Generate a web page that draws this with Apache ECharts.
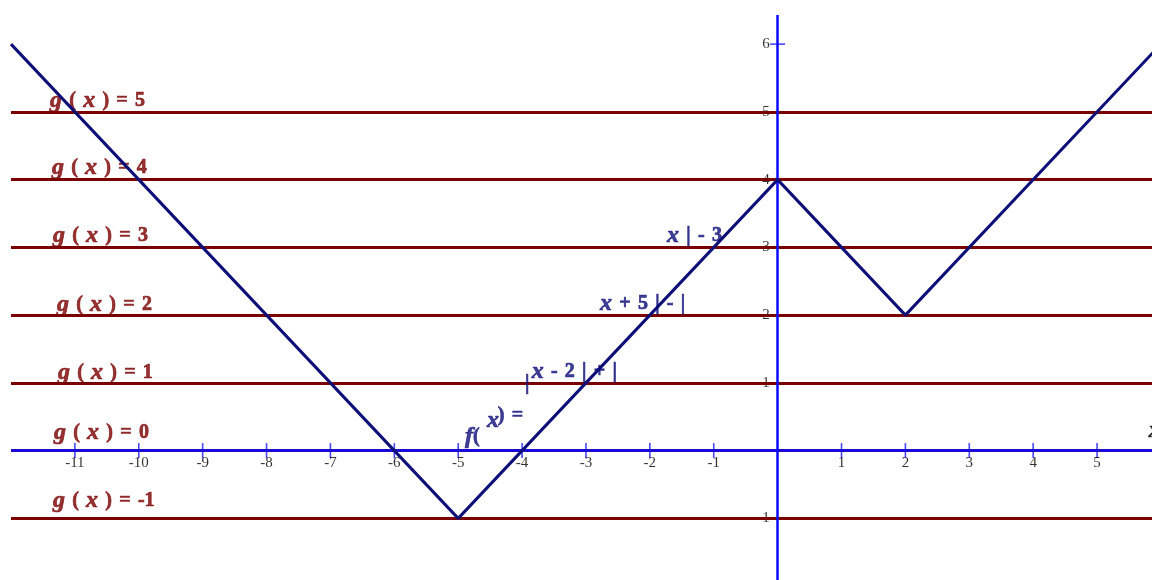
<!DOCTYPE html>
<html><head><meta charset="utf-8">
<script src="https://cdn.jsdelivr.net/npm/echarts@6/dist/echarts.min.js"></script>
<style>html,body{margin:0;padding:0;background:#fff}#c{width:1152px;height:580px}</style>
</head><body><div id="c"></div>
<script>
// ---- data ----
const curveX = [-12, -5, 0, 2, 6];
const curveY = [6, -1, 4, 2, 6];
const gValues = [5, 4, 3, 2, 1, 0, -1];
const xTickValues = [-11, -10, -9, -8, -7, -6, -5, -4, -3, -2, -1, 1, 2, 3, 4, 5];
const yTickValues = [-1, 1, 2, 3, 4, 5, 6];
const curveLabelTexts = ['f(', 'x', ') =', '|', 'x - 2 | + |', 'x + 5 | - |', 'x | - 3'];
const axisNameText = 'x';

// ---- layout config (label anchors in data units) ----
const gLabelAnchors = [[-11.39, 5.162], [-11.36, 4.173], [-11.344, 3.168], [-11.281, 2.157], [-11.266, 1.145], [-11.328, 0.258], [-11.344, -0.74]];
const curveLabelAnchors = [[-4.894, 0.2], [-4.55, 0.436], [-4.38, 0.51], [-3.955, 0.98], [-3.85, 1.16], [-2.78, 2.164], [-1.73, 3.168]];
const axisNameAnchor = [5.81, 0.295];

const RED = '#7a0000', NAVY = '#0e0e78', BLUE = '#0a0aff', TICK = '#1a1aff';
const SERIF = '"Liberation Serif", "Times New Roman", serif';

function richify(text) {
  return text.split('').map(ch => {
    if (ch === ' ') return '{s| }';
    if (/[a-z]/.test(ch)) return '{i|' + ch + '}';
    return '{b|' + ch + '}';
  }).join('');
}
function richStyles(color) {
  const common = {fontFamily: SERIF, lineHeight: 26, color: color, textBorderColor: color, textBorderWidth: 0.7};
  return {
    i: Object.assign({}, common, {fontStyle: 'italic', fontWeight: 'bold', fontSize: 24}),
    b: Object.assign({}, common, {fontWeight: 'bold', fontSize: 20}),
    s: Object.assign({}, common, {fontSize: 29, textBorderWidth: 0})
  };
}
function textSeries(anchors, texts, color, z) {
  return {
    type: 'scatter', silent: true, z: z, symbolSize: 0,
    data: anchors.map((a, i) => ({value: a, txt: texts[i]})),
    label: {
      show: true, position: [0, 0], align: 'left', verticalAlign: 'middle',
      formatter: p => richify(p.data.txt), rich: richStyles(color)
    },
    emphasis: {disabled: true}
  };
}
const tickLabelStyle = {fontFamily: SERIF, fontSize: 15, color: '#000'};

const chart = echarts.init(document.getElementById('c'));
chart.setOption({
  animation: false,
  backgroundColor: '#fff',
  grid: {left: 11, right: 0, top: 15, bottom: 0, containLabel: false, outerBoundsMode: 'none'},
  xAxis: {
    type: 'value', min: -12, max: 5.86,
    axisLine: {show: false}, axisTick: {show: false}, splitLine: {show: false}, axisLabel: {show: false}
  },
  yAxis: {
    type: 'value', min: -1.91, max: 6.43,
    axisLine: {show: false}, axisTick: {show: false}, splitLine: {show: false}, axisLabel: {show: false}
  },
  series: [
    { // x ticks crossing the axis
      type: 'scatter', silent: true, z: 2, symbol: 'rect', symbolSize: [1.6, 15],
      itemStyle: {color: TICK}, data: xTickValues.map(v => [v, 0]), emphasis: {disabled: true}
    },
    { // y ticks crossing the axis
      type: 'scatter', silent: true, z: 2, symbol: 'rect', symbolSize: [15, 1.6],
      itemStyle: {color: TICK}, data: yTickValues.map(v => [0, v]), emphasis: {disabled: true}
    },
    { // x tick labels
      type: 'scatter', silent: true, z: 2, symbolSize: 0, data: xTickValues.map(v => [v, 0]),
      label: Object.assign({show: true, position: 'bottom', distance: 5, formatter: p => String(p.value[0])}, tickLabelStyle),
      emphasis: {disabled: true}
    },
    { // y tick labels
      type: 'scatter', silent: true, z: 2, symbolSize: 0, data: yTickValues.map(v => [0, v]),
      label: Object.assign({show: true, position: 'left', distance: 8, formatter: p => String(p.value[1])}, tickLabelStyle),
      emphasis: {disabled: true}
    },
    { // g(x) horizontal lines + labels
      type: 'scatter', silent: true, z: 3, symbolSize: 0,
      data: gLabelAnchors.map((a, i) => ({value: a, txt: 'g ( x ) = ' + gValues[i]})),
      label: {show: true, position: [0, 0], align: 'left', verticalAlign: 'middle',
        formatter: p => richify(p.data.txt), rich: richStyles(RED)},
      emphasis: {disabled: true},
      markLine: {
        silent: true, symbol: 'none', z: 3, label: {show: false},
        lineStyle: {color: RED, width: 3, type: 'solid'},
        emphasis: {disabled: true},
        data: gValues.map(v => ({yAxis: v}))
      }
    },
    { // axis lines, drawn over the red lines
      type: 'line', silent: true, z: 4, data: [],
      markLine: {
        silent: true, symbol: 'none', z: 4, label: {show: false},
        lineStyle: {color: BLUE, width: 2.5, type: 'solid'},
        emphasis: {disabled: true},
        data: [{xAxis: 0}, {yAxis: 0}]
      }
    },
    { // f(x)
      type: 'line', silent: true, z: 6, symbol: 'none', clip: true,
      lineStyle: {color: NAVY, width: 3},
      data: curveX.map((x, i) => [x, curveY[i]])
    },
    textSeries(curveLabelAnchors, curveLabelTexts, NAVY, 7),
    textSeries([axisNameAnchor], [axisNameText], '#000', 7)
  ]
});
</script></body></html>
